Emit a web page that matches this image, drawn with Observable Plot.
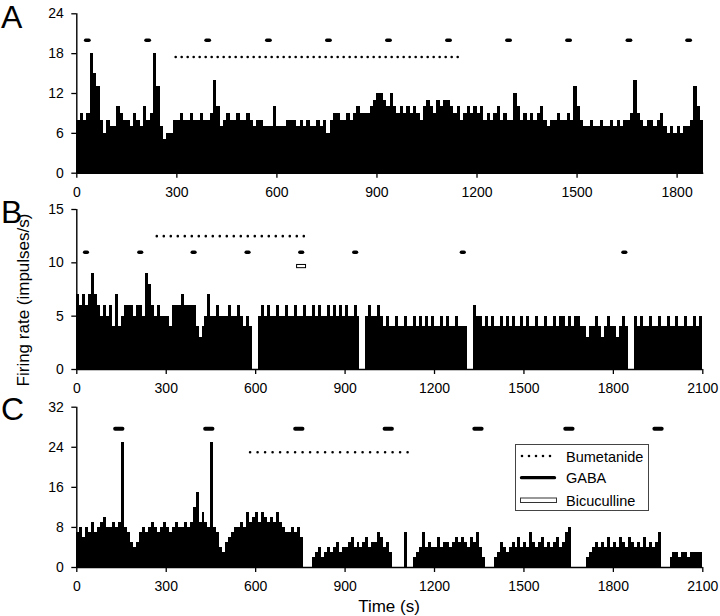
<!DOCTYPE html>
<html><head><meta charset="utf-8">
<script src="https://cdn.jsdelivr.net/npm/d3@7"></script>
<script src="https://cdn.jsdelivr.net/npm/@observablehq/plot@0.6"></script>
<style>
body{margin:0;background:#fff;}
#wrap{position:relative;width:720px;height:616px;font-family:"Liberation Sans",Arial,sans-serif;overflow:hidden;background:#fff;}
#wrap > svg{position:absolute;left:0;}
</style></head><body><div id="wrap"></div>
<script>
// ---------- data (firing rate, impulses/s, in 10-s bins) ----------
const binWidth = 10;

const rateA = [
  8,9,8,9,18,15,13,8,6,8,
  7,7,10,9,8,8,7,9,8,7,
  10,8,9,18,13,7,5,6,6,8,
  8,9,8,8,9,8,8,9,8,8,
  9,14,10,7,8,9,8,8,9,8,
  8,9,8,7,8,8,7,7,7,10,
  7,7,7,8,8,8,7,8,7,8,
  7,7,8,7,8,6,8,9,9,8,
  8,9,8,9,10,9,9,9,10,11,
  12,12,11,10,12,10,9,10,9,10,
  9,10,9,8,10,11,10,9,11,10,
  11,11,10,9,10,8,9,10,9,10,
  9,10,8,9,8,9,10,8,9,8,
  8,12,10,8,9,8,9,8,9,10,
  8,7,8,8,9,8,8,9,8,13,
  10,8,7,7,8,7,7,8,7,7,
  8,7,8,7,8,8,9,14,9,8,
  7,8,8,7,8,9,7,6,7,6,
  7,6,7,7,8,13,10,8
];
const rateB = [
  7,6,7,6,7,9,7,6,5,6,
  5,6,4,7,4,5,6,6,6,5,
  6,6,5,9,8,6,5,6,5,5,
  5,4,6,6,6,7,6,6,6,6,
  4,3,4,5,7,5,5,6,5,5,
  5,6,5,5,6,5,4,5,4,0,
  0,5,6,5,6,5,5,6,5,5,
  6,5,5,6,5,5,6,5,5,6,
  5,6,5,5,6,5,6,5,6,5,
  6,5,5,6,5,0,0,5,6,5,
  5,6,5,4,5,4,4,5,4,4,
  5,4,4,5,4,5,4,5,4,5,
  4,4,5,4,5,4,4,5,4,4,
  4,0,0,6,5,5,4,5,4,5,
  4,4,5,4,5,4,5,4,4,5,
  4,5,4,4,5,4,4,5,4,4,
  5,4,5,5,4,5,4,5,5,4,
  4,3,4,4,5,4,3,4,5,4,
  4,3,4,5,4,0,0,5,4,5,
  4,4,5,4,4,5,4,4,5,4,
  4,5,4,4,5,4,4,5,4,5
];
const rateC = [
  7,8,6,8,7,9,7,8,9,10,
  8,8,9,8,9,25,8,7,5,4,
  5,7,8,7,8,9,8,7,8,9,
  8,7,8,9,8,8,9,8,9,12,
  15,9,11,9,8,25,8,7,4,3,
  5,6,7,8,8,9,8,11,9,10,
  11,9,11,10,9,10,9,11,9,8,
  7,7,8,7,8,6,0,0,0,2,
  3,4,2,3,4,3,4,5,3,4,
  4,5,6,4,5,4,5,6,4,5,
  5,7,6,4,5,3,0,0,0,0,
  7,0,0,2,3,4,7,4,5,4,
  4,6,4,5,5,4,5,6,5,6,
  5,4,6,5,7,4,2,0,0,0,
  2,3,5,4,3,4,5,4,6,4,
  5,4,7,5,4,5,6,4,5,4,
  5,6,4,5,7,8,0,0,0,0,
  0,2,3,4,5,4,5,4,6,4,
  5,4,6,5,4,6,5,4,5,4,
  6,4,5,4,5,7,0,0,0,2,
  3,3,2,3,3,2,3,3,3,3
];

// axes
const xTicksA = [0, 300, 600, 900, 1200, 1500, 1800];
const xTicksBC = [0, 300, 600, 900, 1200, 1500, 1800, 2100];
const yTicksA = [0, 6, 12, 18, 24];
const yTicksB = [0, 5, 10, 15];
const yTicksC = [0, 8, 16, 24, 32];

// drug applications (s)
const gabaA = [28, 209, 389, 571, 751, 931, 1111, 1291, 1471, 1652, 1831];
const gabaB = [28, 210, 389, 570, 750, 931, 1292, 1834];
const gabaC = [130, 432, 734, 1034, 1335, 1640, 1939];
const bumA = [298, 1158];
const bumB = [270, 782];
const bumC = [583, 1114];
const bicB = [739, 769];

// ---------- drawing ----------
const wrap = document.getElementById("wrap");
const FONT = '"Liberation Sans", Arial, sans-serif';

function panel(o) {
  const rows = o.rate.map((v, i) => ({t: i * binWidth, v}));
  const marks = [
    Plot.rectY(rows, {x1: "t", x2: d => d.t + binWidth, y: "v", fill: "black", shapeRendering: "crispEdges"}),
    Plot.ruleY([0], {stroke: "black", strokeWidth: 1.4}),
    Plot.ruleX([0], {stroke: "black", strokeWidth: 1.4}),
    Plot.axisX({ticks: o.xTicks, tickSize: 5, tickPadding: 9, tickFormat: d => String(d), label: null, strokeWidth: 1.3}),
    Plot.axisY({ticks: o.yTicks, tickSize: 5, tickPadding: 8, tickFormat: d => String(d), label: null, strokeWidth: 1.3}),
    Plot.ruleY([o.bumLevel], {x1: () => o.bum[0], x2: () => o.bum[1], stroke: "black", strokeWidth: 2.6,
      strokeDasharray: `0 ${o.dot}`, strokeLinecap: "round"}),
    Plot.ruleY(o.gaba, {x1: d => d, x2: d => d + o.gabaDur, y: () => o.gabaLevel, stroke: "black",
      strokeWidth: o.gabaW, strokeLinecap: "round"})
  ];
  if (o.bic) {
    marks.push(Plot.rect([o.bic], {x1: d => d[0], x2: d => d[1], y1: () => o.bicLevel[0], y2: () => o.bicLevel[1],
      fill: "white", stroke: "black", strokeWidth: 1}));
  }
  const svg = Plot.plot({
    width: 720, height: o.height,
    marginLeft: 76.3, marginRight: o.marginRight,
    marginTop: o.marginTop, marginBottom: o.marginBottom,
    x: {domain: [0, o.xMax]},
    y: {domain: [0, o.yMax]},
    style: {background: "transparent", overflow: "visible", fontSize: "14px", fontFamily: FONT, color: "black"},
    marks
  });
  svg.style.top = o.top + "px";
  wrap.appendChild(svg);
}

panel({rate: rateA, xMax: 1880, xTicks: xTicksA, yMax: 24, yTicks: yTicksA,
  top: 0, height: 200, marginTop: 13.3, marginBottom: 27.3, marginRight: 16.7,
  bum: bumA, bumLevel: 17.5, dot: 6, gaba: gabaA, gabaDur: 10, gabaLevel: 20, gabaW: 3.5});
panel({rate: rateB, xMax: 2100, xTicks: xTicksBC, yMax: 15, yTicks: yTicksB,
  top: 195, height: 200, marginTop: 14, marginBottom: 26, marginRight: 17.7,
  bum: bumB, bumLevel: 12.5, dot: 7, gaba: gabaB, gabaDur: 9, gabaLevel: 11, gabaW: 3.5,
  bic: bicB, bicLevel: [9.5, 9.8]});
panel({rate: rateC, xMax: 2100, xTicks: xTicksBC, yMax: 32, yTicks: yTicksC,
  top: 394, height: 200, marginTop: 12.7, marginBottom: 27, marginRight: 17.7,
  bum: bumC, bumLevel: 23, dot: 7.5, gaba: gabaC, gabaDur: 25, gabaLevel: 27.7, gabaW: 3.8});

// ---------- overlay text: panel letters, axis titles, legend ----------
const NS = "http://www.w3.org/2000/svg";
const ov = d3.select(wrap).append("svg")
  .attr("xmlns", NS).attr("width", 720).attr("height", 616)
  .style("top", "0px").style("font-family", FONT).style("pointer-events", "none");

[["A", 28], ["B", 223], ["C", 420]].forEach(([s, y]) => {
  ov.append("text").attr("x", 1).attr("y", y).attr("font-size", 32).text(s);
});
ov.append("text").attr("transform", "translate(29,300) rotate(-90)")
  .attr("text-anchor", "middle").attr("font-size", 17).text("Firing rate (impulses/s)");
ov.append("text").attr("x", 389).attr("y", 612).attr("text-anchor", "middle")
  .attr("font-size", 17).text("Time (s)");

const lg = ov.append("g");
lg.append("rect").attr("x", 515.5).attr("y", 444.5).attr("width", 133).attr("height", 66)
  .attr("fill", "white").attr("stroke", "#444").attr("stroke-width", 1);
lg.append("line").attr("x1", 522).attr("x2", 551).attr("y1", 456).attr("y2", 456)
  .attr("stroke", "black").attr("stroke-width", 2.6).attr("stroke-dasharray", "0 7").attr("stroke-linecap", "round");
lg.append("line").attr("x1", 521.5).attr("x2", 554.5).attr("y1", 477.7).attr("y2", 477.7)
  .attr("stroke", "black").attr("stroke-width", 3.3).attr("stroke-linecap", "round");
lg.append("rect").attr("x", 520.5).attr("y", 498).attr("width", 36).attr("height", 4.5)
  .attr("fill", "white").attr("stroke", "#333").attr("stroke-width", 1);
[["Bumetanide", 461.5], ["GABA", 483], ["Bicuculline", 505.5]].forEach(([s, y]) => {
  lg.append("text").attr("x", 566).attr("y", y).attr("font-size", 14.5).text(s);
});
</script></body></html>
